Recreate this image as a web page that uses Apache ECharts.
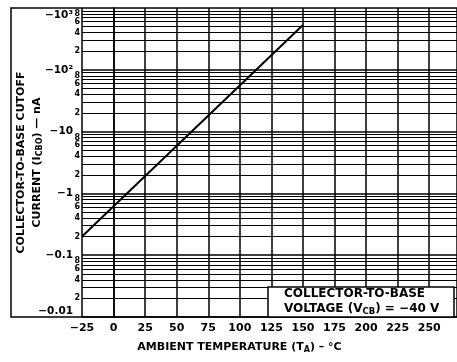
<!DOCTYPE html>
<html>
<head>
<meta charset="utf-8">
<script src="https://cdn.jsdelivr.net/npm/echarts@6/dist/echarts.min.js"></script>
<style>
html, body { margin: 0; padding: 0; background: #fff; }
#chart { width: 457px; height: 362px; }
</style>
</head>
<body>
<div id="chart"></div>
<script>
// ambient temperature (°C) vs collector-to-base cutoff current magnitude (nA, shown negative)
var temps = [-25, 150];
var icbo = [0.2, 530];
var decadeLabels = ['−0.01', '−0.1', '−1', '−10', '−10²', '−10³'];
var minorDecades = [0.01, 0.1, 1, 10, 100];
var minorSteps = [2, 3, 4, 5, 6, 7, 8, 9];
var labelSteps = [2, 4, 6, 8];

var font = 'DejaVu Sans';

var minorLines = [];
minorDecades.forEach(function (d) {
    minorSteps.forEach(function (m) {
        minorLines.push({ yAxis: +(m * d).toPrecision(3) });
    });
});

function txt(size, extra) {
    var o = { fontFamily: font, fontWeight: 'bold', fontSize: size, color: '#000' };
    for (var k in extra) o[k] = extra[k];
    return o;
}

var myChart = echarts.init(document.getElementById('chart'));
var option = {
    animation: false,
    backgroundColor: '#fff',
    textStyle: { fontFamily: font, fontWeight: 'bold', color: '#000' },
    title: {
        text: '{a|COLLECTOR-TO-BASE}\n{a|VOLTAGE (V}{s|CB}{a|) = −40 V}',
        left: 268,
        top: 285,
        backgroundColor: '#fff',
        borderColor: '#000',
        borderWidth: 1.5,
        padding: [1, 15, 1, 16],
        textStyle: {
            rich: {
                a: txt(12, { lineHeight: 15 }),
                s: txt(8.5, { lineHeight: 15, padding: [6, 0, 0, 0] })
            }
        }
    },
    grid: { left: 82, top: 8, right: 0, bottom: 45, outerBoundsMode: 'none' },
    xAxis: {
        type: 'value',
        min: -25,
        max: 272,
        interval: 25,
        name: '{a|AMBIENT TEMPERATURE (T}{s|A}{a|) – °C}',
        nameLocation: 'middle',
        nameGap: 24,
        nameTextStyle: {
            padding: [0, 60, 0, 0],
            rich: {
                a: txt(11, { lineHeight: 13 }),
                s: txt(8, { lineHeight: 13, padding: [5, 0, 0, 0] })
            }
        },
        axisLine: { lineStyle: { color: '#000', width: 1.5 } },
        axisTick: { show: false },
        axisLabel: txt(11, {
            margin: 6,
            interval: 0,
            formatter: function (v) {
                if (v > 250) return '';
                return v < 0 ? '−' + Math.abs(v) : String(v);
            }
        }),
        splitLine: { show: true, lineStyle: { color: '#000', width: 1.5 } }
    },
    yAxis: {
        type: 'log',
        logBase: 10,
        min: 0.01,
        max: 1000,
        name: '{a|COLLECTOR-TO-BASE CUTOFF}\n{a|CURRENT (I}{s|CBO}{a|) — nA}',
        nameLocation: 'middle',
        nameRotate: 90,
        nameGap: 37,
        nameMoveOverlap: false,
        nameTextStyle: {
            rich: {
                a: txt(11, { lineHeight: 16 }),
                s: txt(8, { lineHeight: 16, padding: [5, 0, 0, 0] })
            }
        },
        axisLine: { show: true, lineStyle: { color: '#000', width: 1.5 } },
        axisTick: { show: false },
        axisLabel: txt(10.5, {
            margin: 9,
            formatter: function (v) {
                var i = Math.round(Math.log10(v)) + 2;
                var style = i === 5 ? 'top' : (i === 0 ? 'bot' : 'm');
                return '{' + style + '|' + decadeLabels[i] + '}';
            },
            rich: {
                m: txt(10.5),
                top: txt(10.5, { padding: [14, 0, 0, 0] }),
                bot: txt(10.5, { padding: [0, 0, 12, 0] })
            }
        }),
        splitLine: { show: true, lineStyle: { color: '#000', width: 1.5 } }
    },
    graphic: [{
        type: 'polyline',
        shape: { points: [[82, 317], [11, 317], [11, 8], [82, 8]] },
        style: { stroke: '#000', lineWidth: 1.5, fill: null }
    }],
    series: [{
        type: 'line',
        data: temps.map(function (t, i) { return [t, icbo[i]]; }),
        symbol: 'none',
        lineStyle: { color: '#000', width: 2 },
        markLine: {
            silent: true,
            symbol: 'none',
            lineStyle: { color: '#000', width: 1, type: 'solid' },
            label: txt(8, {
                position: 'start',
                distance: 2,
                formatter: function (p) {
                    var v = p.value;
                    var m = Math.round(v / Math.pow(10, Math.floor(Math.log10(v) + 1e-9)));
                    return labelSteps.indexOf(m) >= 0 ? String(m) : '';
                }
            }),
            emphasis: { disabled: true },
            data: minorLines
        }
    }]
};
myChart.setOption(option);
window.addEventListener('resize', function () {
    myChart.resize();
});
</script>
</body>
</html>
